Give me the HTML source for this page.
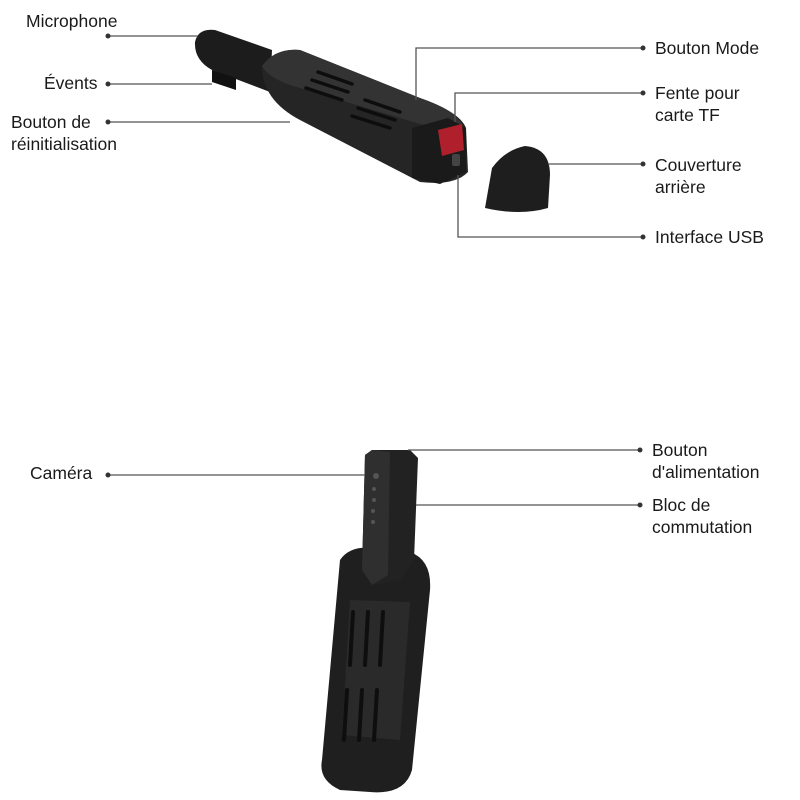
<!DOCTYPE html>
<html><head><meta charset="utf-8"><style>
html,body{margin:0;padding:0;background:#fff;}
svg{display:block}
text{font-family:"Liberation Sans",sans-serif;font-size:17.5px;fill:#1a1a1a}
</style></head><body>
<svg width="800" height="800" viewBox="0 0 800 800" xmlns="http://www.w3.org/2000/svg">
<rect width="800" height="800" fill="#fff"/>
<!-- top device -->
<g>
<path d="M195,42 Q198,28 215,30 L272,50 L270,92 L212,70 Q194,60 195,42 Z" fill="#1c1c1c"/>
<polygon points="212,70 236,78 236,90 212,82" fill="#111"/>
<path d="M262,66 Q275,48 300,50 L420,98 Q460,112 466,128 L468,172 Q455,186 420,182 L300,120 Q262,100 262,66 Z" fill="#252525"/>
<path d="M262,66 Q275,48 300,50 L420,98 Q455,110 462,124 L440,130 L300,88 Q270,80 262,66Z" fill="#333"/>
<g stroke="#0d0d0d" stroke-width="3.5" stroke-linecap="round">
<line x1="318" y1="72" x2="352" y2="84"/><line x1="312" y1="80" x2="348" y2="92"/><line x1="306" y1="88" x2="342" y2="100"/>
<line x1="365" y1="100" x2="400" y2="112"/><line x1="358" y1="108" x2="395" y2="120"/><line x1="352" y1="116" x2="390" y2="128"/>
</g>
<polygon points="412,128 448,118 466,128 466,172 440,184 412,178" fill="#1a1a1a"/>
<polygon points="438,130 462,124 464,150 442,156" fill="#b0202c"/>
<rect x="452" y="154" width="8" height="12" rx="2" fill="#444"/>
<path d="M492,168 Q505,150 525,146 Q550,148 550,175 L548,208 Q520,216 485,208 Z" fill="#1e1e1e"/>
</g>
<!-- bottom device -->
<g>
<path d="M340,560 Q350,545 375,548 L410,552 Q432,560 430,590 L412,770 Q405,795 370,792 L340,790 Q318,780 322,760 Z" fill="#1f1f1f"/>
<path d="M350,600 L410,602 L400,740 L342,735 Z" fill="#2a2a2a"/>
<g stroke="#0e0e0e" stroke-width="4" stroke-linecap="round">
<line x1="353" y1="612" x2="350" y2="665"/><line x1="368" y1="612" x2="365" y2="665"/><line x1="383" y1="612" x2="380" y2="665"/>
<line x1="347" y1="690" x2="344" y2="740"/><line x1="362" y1="690" x2="359" y2="740"/><line x1="377" y1="690" x2="374" y2="740"/>
</g>
<polygon points="365,455 372,450 410,450 418,458 414,560 400,580 372,585 362,570" fill="#222"/>
<polygon points="365,455 372,450 390,452 388,575 372,585 362,570" fill="#2f2f2f"/>
<g fill="#555"><circle cx="376" cy="476" r="3"/><circle cx="374" cy="489" r="2"/><circle cx="374" cy="500" r="2"/><circle cx="373" cy="511" r="2"/><circle cx="373" cy="522" r="2"/></g>
</g>
<!-- connectors -->
<g stroke="#555" stroke-width="1.3" fill="none">
<line x1="108" y1="36" x2="198" y2="36"/>
<line x1="108" y1="84" x2="212" y2="84"/>
<line x1="108" y1="122" x2="290" y2="122"/>
<polyline points="643,48 416,48 416,100"/>
<polyline points="643,93 455,93 455,122"/>
<line x1="643" y1="164" x2="548" y2="164"/>
<polyline points="643,237 458,237 458,175"/>
<line x1="108" y1="475" x2="365" y2="475"/>
<line x1="640" y1="450" x2="408" y2="450"/>
<line x1="640" y1="505" x2="416" y2="505"/>
</g>
<g fill="#333">
<circle cx="108" cy="36" r="2.5"/><circle cx="108" cy="84" r="2.5"/><circle cx="108" cy="122" r="2.5"/>
<circle cx="643" cy="48" r="2.5"/><circle cx="643" cy="93" r="2.5"/><circle cx="643" cy="164" r="2.5"/><circle cx="643" cy="237" r="2.5"/>
<circle cx="108" cy="475" r="2.5"/><circle cx="640" cy="450" r="2.5"/><circle cx="640" cy="505" r="2.5"/>
</g>
<!-- labels -->
<text x="26" y="27">Microphone</text>
<text x="44" y="89">Évents</text>
<text x="11" y="128">Bouton de</text>
<text x="11" y="150">réinitialisation</text>
<text x="655" y="54">Bouton Mode</text>
<text x="655" y="99">Fente pour</text>
<text x="655" y="121">carte TF</text>
<text x="655" y="171">Couverture</text>
<text x="655" y="193">arrière</text>
<text x="655" y="243">Interface USB</text>
<text x="30" y="479">Caméra</text>
<text x="652" y="456">Bouton</text>
<text x="652" y="478">d'alimentation</text>
<text x="652" y="511">Bloc de</text>
<text x="652" y="533">commutation</text>
</svg>
</body></html>
